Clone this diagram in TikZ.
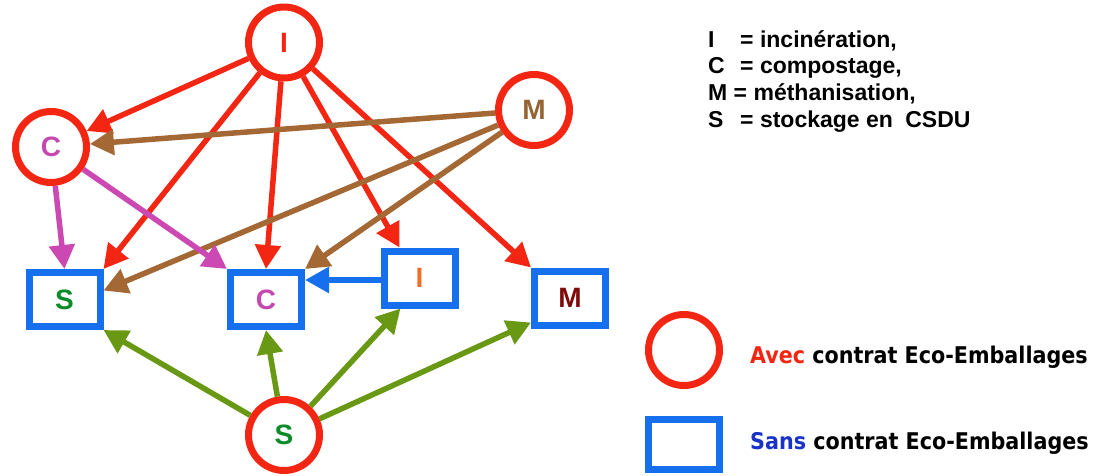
\documentclass[tikz,border=0pt]{standalone}
\usepackage{fontspec}
\setmainfont{Liberation Sans}
\newfontfamily\legfont{DejaVu Sans Condensed}
\usetikzlibrary{arrows.meta}
\definecolor{cred}{RGB}{242,38,18}
\definecolor{cblue}{RGB}{22,112,238}
\definecolor{cbrown}{RGB}{164,104,52}
\definecolor{cmag}{RGB}{204,72,178}
\definecolor{cgreen}{RGB}{104,152,20}
\definecolor{tgreen}{RGB}{10,140,40}
\definecolor{tmag}{RGB}{196,72,176}
\definecolor{tbrown}{RGB}{150,100,50}
\definecolor{torange}{RGB}{240,110,40}
\definecolor{tdark}{RGB}{128,10,10}
\definecolor{tsans}{RGB}{25,50,200}
\tikzset{
  avec/.style={circle,draw=cred,line width=7pt,minimum size=71pt,inner sep=0pt,font=\fontsize{28}{30}\selectfont\bfseries},
  sans/.style={rectangle,draw=cblue,line width=7pt,minimum width=71pt,minimum height=54pt,inner sep=0pt,font=\fontsize{28}{30}\selectfont\bfseries},
  arr/.style={line width=5.5pt,-{Triangle[length=24pt,width=25pt]}},
  legline/.style={anchor=base west,inner sep=0pt,font=\fontsize{23}{26}\selectfont\bfseries},
  legbig/.style={anchor=base west,inner sep=0pt,font=\legfont\fontsize{23}{26}\selectfont\bfseries},
}
\begin{document}
\begin{tikzpicture}[x=1pt,y=-1pt]
\useasboundingbox (0,0) rectangle (1108,475);
% nodes
\node[avec,text=cred] (Ic) at (284,42.5) {I};
\node[avec,text=tbrown] (Mc) at (534,110) {M};
\node[avec,text=tmag] (Cc) at (51,147) {C};
\node[avec,text=tgreen] (Sc) at (284,435) {S};
\node[sans,text=tgreen] (Sb) at (64.5,299.5) {S};
\node[sans,text=tmag] (Cb) at (266,299.5) {C};
\node[sans,text=torange] (Ib) at (419.5,278) {I};
\node[sans,text=tdark] (Mb) at (570,298) {M};
% red arrows from I
\draw[arr,cred] (Ic) -- (Cc);
\draw[arr,cred] (Ic) -- (Sb.north east);
\draw[arr,cred] (Ic) -- (Cb.north);
\draw[arr,cred] (Ic) -- ([xshift=-20pt]Ib.north);
\draw[arr,cred] (Ic) -- (Mb.north west);
% brown arrows from M
\draw[arr,cbrown] (Mc) -- (Cc);
\draw[arr,cbrown] (Mc) -- ([yshift=9pt]Sb.east);
\draw[arr,cbrown] (Mc) -- (Cb.north east);
% magenta from C
\draw[arr,cmag] (Cc) -- (Sb.north);
\draw[arr,cmag] (Cc) -- (Cb.north west);
% blue
\draw[arr,cblue] ([yshift=-2pt]Ib.west) -- ([yshift=19.5pt]Cb.east);
% green from S
\draw[arr,cgreen] (Sc) -- (Sb.south east);
\draw[arr,cgreen] (Sc) -- (Cb.south);
\draw[arr,cgreen] (Sc) -- ([xshift=20pt]Ib.south west);
\draw[arr,cgreen] (Sc) -- ([yshift=6pt]Mb.south west);
% legend
\node[legline] (l1) at (708,47) {\makebox[32pt][l]{I}= incinération,};
\node[legline] (l2) at (708,73.5) {\makebox[32pt][l]{C}= compostage,};
\node[legline] (l3) at (708,100) {M = méthanisation,};
\node[legline] (l4) at (708,127) {\makebox[32pt][l]{S}= stockage en\hspace{6pt} CSDU};
\node[circle,draw=cred,line width=7pt,minimum size=71pt,inner sep=0pt] (lc) at (684,350) {};
\node[rectangle,draw=cblue,line width=7pt,minimum width=71pt,minimum height=50pt,inner sep=0pt] (lb) at (684,444.5) {};
\node[legbig] (la) at (750,363) {\textcolor{cred}{Avec} contrat Eco-Emballages};
\node[legbig] (ls) at (750,449) {\textcolor{tsans}{Sans} contrat Eco-Emballages};
\end{tikzpicture}
\end{document}
